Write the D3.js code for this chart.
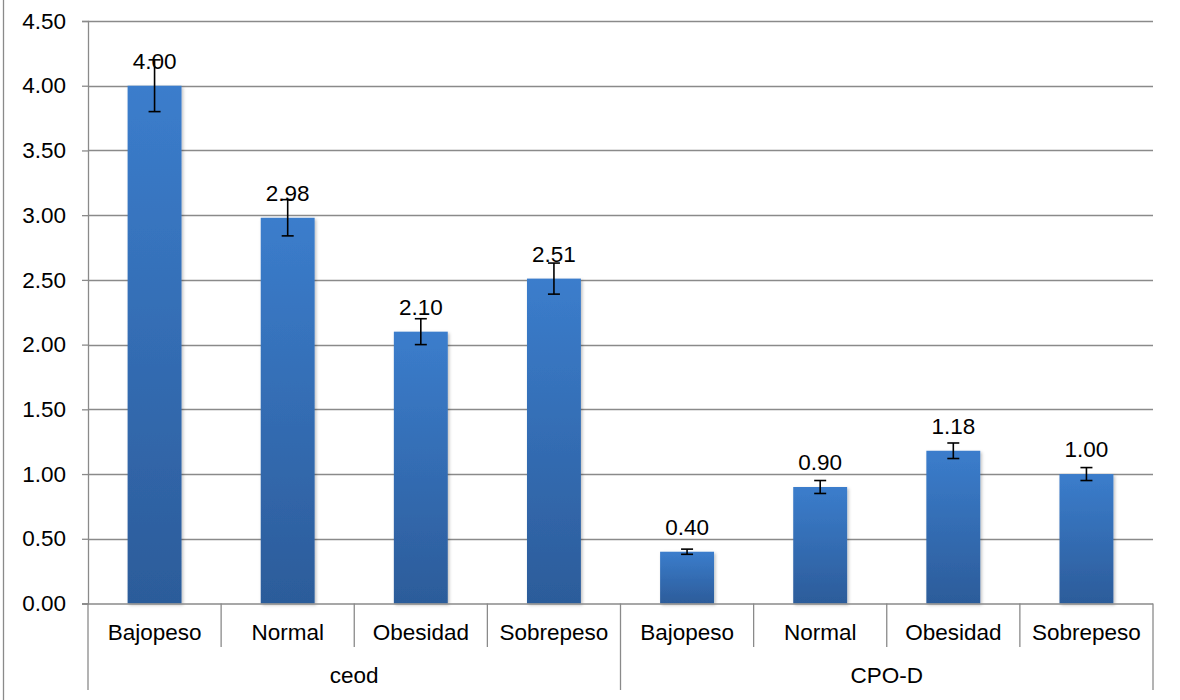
<!DOCTYPE html>
<html><head><meta charset="utf-8">
<script src="https://cdn.jsdelivr.net/npm/d3@7"></script>
<style>
html,body{margin:0;padding:0;background:#fff;}
svg{display:block;}
text{font-family:"Liberation Sans",Arial,sans-serif;fill:#000;}
</style></head>
<body>
<svg id="chart" width="1180" height="700"></svg>
<script>
const groups = ["ceod", "CPO-D"];
const categories = ["Bajopeso", "Normal", "Obesidad", "Sobrepeso"];
const ceodValues = [4.00, 2.98, 2.10, 2.51];
const ceodErrors = [0.20, 0.14, 0.10, 0.12];
const cpodValues = [0.40, 0.90, 1.18, 1.00];
const cpodErrors = [0.02, 0.05, 0.06, 0.05];
const yTicks = [0, 0.5, 1, 1.5, 2, 2.5, 3, 3.5, 4, 4.5];

(function () {
const FS = "22.5px";
const rows = [];
groups.forEach((g, gi) => {
  const vals = gi === 0 ? ceodValues : cpodValues;
  const errs = gi === 0 ? ceodErrors : cpodErrors;
  categories.forEach((c, ci) => rows.push({key: g + "|" + c, group: g, cat: c, value: vals[ci], err: errs[ci]}));
});

const svg = d3.select("#chart");
const plotL = 88, plotR = 1153, plotT = 21, plotB = 603.5;

const x = d3.scaleBand().domain(rows.map(d => d.key)).range([plotL, plotR]).paddingInner(0).paddingOuter(0);
const y = d3.scaleLinear().domain([0, 4.5]).range([plotB, plotT]);

// outer left border
svg.append("line").attr("x1", 3.5).attr("x2", 3.5).attr("y1", 0).attr("y2", 700)
  .attr("stroke", "#8a8a8a").attr("stroke-width", 1.3);

// gradient
const defs = svg.append("defs");
const grad = defs.append("linearGradient").attr("id", "barGrad").attr("x1", 0).attr("y1", 0).attr("x2", 0).attr("y2", 1);
grad.append("stop").attr("offset", "0%").attr("stop-color", "#3b7dcc");
grad.append("stop").attr("offset", "100%").attr("stop-color", "#2c5c9a");
const sh = defs.append("filter").attr("id", "shadow").attr("x", "-20%").attr("y", "-5%").attr("width", "140%").attr("height", "115%");
sh.append("feDropShadow").attr("dx", 1.5).attr("dy", 1.5).attr("stdDeviation", 1.5).attr("flood-color", "#000").attr("flood-opacity", 0.25);

// gridlines
svg.append("g").selectAll("line").data(yTicks.filter(t => t > 0)).join("line")
  .attr("x1", plotL).attr("x2", plotR)
  .attr("y1", d => Math.round(y(d)) + 0.5).attr("y2", d => Math.round(y(d)) + 0.5)
  .attr("stroke", "#8a8a8a").attr("stroke-width", 1.3);

// y axis
const yAxis = d3.axisLeft(y).tickValues(yTicks).tickFormat(d3.format(".2f")).tickSize(6).tickPadding(16);
const gy = svg.append("g").attr("transform", `translate(${plotL},0)`).call(yAxis);
gy.select(".domain").attr("stroke", "#8a8a8a").attr("stroke-width", 1.3);
gy.selectAll(".tick line").attr("stroke", "#8a8a8a").attr("stroke-width", 1.3);
gy.selectAll(".tick text").style("font-size", FS).style("font-family", "'Liberation Sans', Arial, sans-serif").attr("fill", "#000");

// bars
const bw = x.bandwidth() * 0.405;
svg.append("g").selectAll("rect").data(rows).join("rect")
  .attr("x", d => x(d.key) + x.bandwidth() / 2 - bw / 2)
  .attr("y", d => y(d.value))
  .attr("width", bw)
  .attr("height", d => y(0) - y(d.value))
  .attr("fill", "url(#barGrad)")
  .attr("filter", "url(#shadow)");

// x axis baseline
svg.append("line").attr("x1", plotL - 6).attr("x2", plotR).attr("y1", plotB + 0.5).attr("y2", plotB + 0.5)
  .attr("stroke", "#8a8a8a").attr("stroke-width", 1.3);

// value labels
svg.append("g").selectAll("text").data(rows).join("text")
  .attr("x", d => x(d.key) + x.bandwidth() / 2)
  .attr("y", d => y(d.value) - 17)
  .attr("text-anchor", "middle")
  .style("font-size", FS)
  .text(d => d3.format(".2f")(d.value));

// error bars
const eg = svg.append("g").attr("stroke", "#000").attr("stroke-width", 1.6);
rows.forEach(d => {
  const cx = x(d.key) + x.bandwidth() / 2;
  const y1 = y(d.value + d.err), y2 = y(d.value - d.err);
  eg.append("line").attr("x1", cx).attr("x2", cx).attr("y1", y1).attr("y2", y2);
  eg.append("line").attr("x1", cx - 6).attr("x2", cx + 6).attr("y1", y1).attr("y2", y1);
  eg.append("line").attr("x1", cx - 6).attr("x2", cx + 6).attr("y1", y2).attr("y2", y2);
});

// category separators and labels
const bounds = rows.map(d => x(d.key)).concat([plotR]);
svg.append("g").selectAll("line").data(bounds).join("line")
  .attr("x1", d => d).attr("x2", d => d)
  .attr("y1", plotB)
  .attr("y2", (d, i) => (i % categories.length === 0) ? 690 : 647)
  .attr("stroke", "#8a8a8a").attr("stroke-width", 1.3);

svg.append("g").selectAll("text").data(rows).join("text")
  .attr("x", d => x(d.key) + x.bandwidth() / 2)
  .attr("y", 640)
  .attr("text-anchor", "middle")
  .style("font-size", FS)
  .text(d => d.cat);

svg.append("g").selectAll("text").data(groups).join("text")
  .attr("x", g => {
    const ks = rows.filter(r => r.group === g).map(r => x(r.key));
    return (d3.min(ks) + d3.max(ks) + x.bandwidth()) / 2;
  })
  .attr("y", 683)
  .attr("text-anchor", "middle")
  .style("font-size", FS)
  .text(g => g);
})();
</script>
</body></html>
